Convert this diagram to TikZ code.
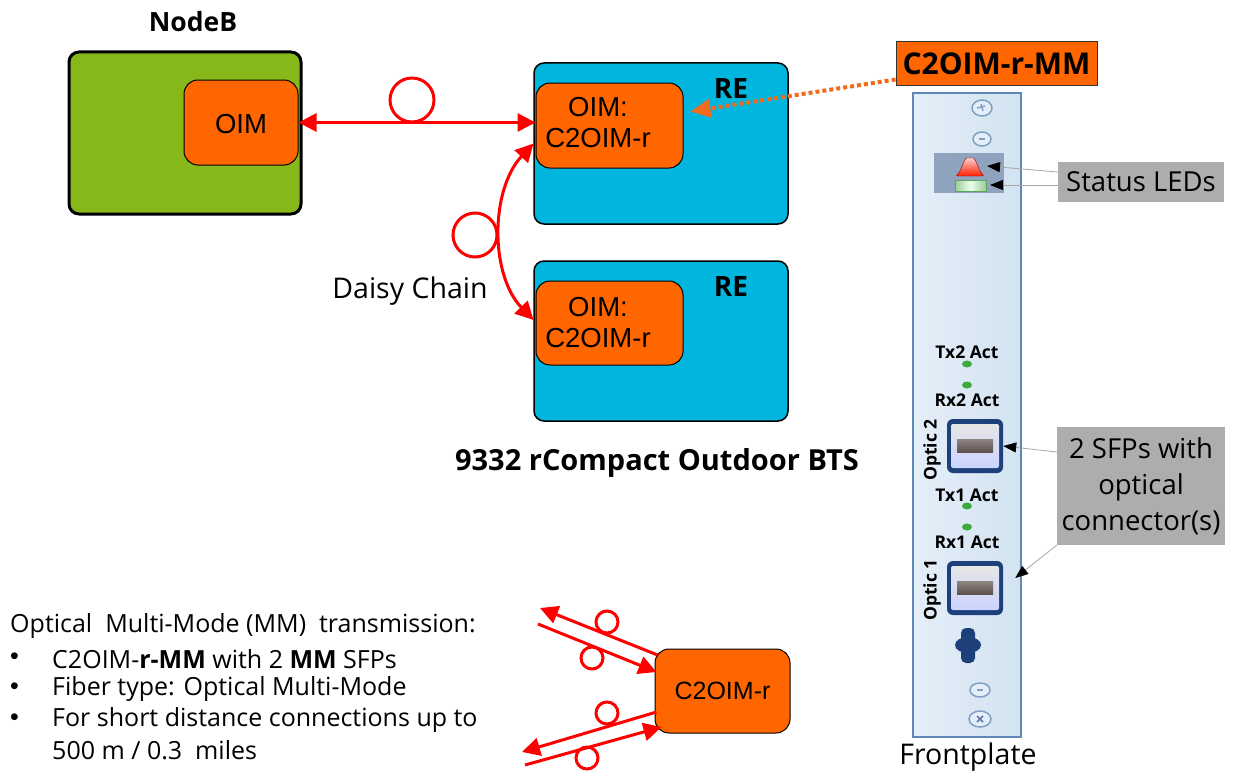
\documentclass[tikz,border=0pt]{standalone}
\usepackage{fontspec}
\setmainfont{Liberation Sans}
\newfontfamily\hum{Open Sans}
\usetikzlibrary{arrows.meta,calc}
\definecolor{nbgreen}{HTML}{86B81A}
\definecolor{oimorange}{HTML}{FF6600}
\definecolor{recyan}{HTML}{00B6DE}
\definecolor{fibred}{HTML}{FF0000}
\definecolor{dotorange}{HTML}{F26B1D}
\definecolor{calloutgray}{HTML}{ADADAD}
\definecolor{plate}{HTML}{D3E3F1}
\definecolor{platelight}{HTML}{E4EEF8}
\definecolor{plateedge}{HTML}{5F88B8}
\definecolor{ledpanel}{HTML}{8FA3BF}
\definecolor{navy}{HTML}{1D3F7A}
\definecolor{screwedge}{HTML}{7FA0C4}
\definecolor{actgreen}{HTML}{3DAA3D}
\definecolor{slot}{HTML}{5E514E}
\begin{document}
\begin{tikzpicture}[x=1pt,y=-1pt,
  outerbox/.style={draw=black,line width=1.5,rounded corners=10,inner sep=0},
  oimbox/.style={draw=black,line width=1,fill=oimorange,rounded corners=14,inner sep=0},
  boxtext/.style={font=\fontsize{27.5}{31}\selectfont,align=center,inner sep=0},
  title/.style={font=\hum\bfseries\fontsize{26.5}{30}\selectfont,inner sep=0},
  plain/.style={font=\hum\fontsize{28.5}{32}\selectfont,inner sep=0},
  body/.style={font=\hum\fontsize{25}{29}\selectfont,inner sep=0,anchor=west},
  bullet/.style={font=\fontsize{25}{29}\selectfont,inner sep=0,anchor=west},
  small/.style={font=\hum\bfseries\fontsize{17.5}{20}\selectfont,inner sep=0},
  fiber/.style={draw=fibred,line width=3},
  ftip/.style={-{Triangle[length=18pt,width=18pt]}},
  fiberbi/.style={{Triangle[length=18pt,width=18pt]}-{Triangle[length=18pt,width=18pt]}},
  callout/.style={draw=gray!70,line width=0.8,-{Triangle[color=black,length=13pt,width=10pt]}},
  graylabel/.style={fill=calloutgray,inner sep=0,align=center,font=\hum\fontsize{27.5}{36}\selectfont},
  screw/.style={draw=screwedge,line width=1.5,fill=platelight},
  sfp/.style={fill=navy,rounded corners=6,inner sep=0,minimum width=56,minimum height=54}
]
\useasboundingbox (0,0) rectangle (1239,776);

% ---------- NodeB ----------
\node[title] (nodebt) at (193,22) {NodeB};
\node[outerbox,line width=3,fill=nbgreen,minimum width=232,minimum height=162] (nodeb) at (185,133) {};
\node[oimbox,minimum width=114,minimum height=85] (oim) at (241,122.5) {};
\node[boxtext] (oimt) at (241,124) {OIM};

% ---------- Radio equipment ----------
\node[outerbox,fill=recyan,minimum width=254,minimum height=161] (rea) at (661,143.5) {};
\node[oimbox,minimum width=147,minimum height=85] (c2a) at (609.5,125.5) {};
\node[boxtext,align=center] (c2at) at (598,123) {OIM:\\C2OIM-r};
\node[title,font=\hum\bfseries\fontsize{28}{32}\selectfont] (rea-t) at (731,89) {RE};

\node[outerbox,fill=recyan,minimum width=254,minimum height=160] (reb) at (661,341) {};
\node[oimbox,minimum width=147,minimum height=84] (c2b) at (609.5,323) {};
\node[boxtext,align=center] (c2bt) at (598,323) {OIM:\\C2OIM-r};
\node[title,font=\hum\bfseries\fontsize{28}{32}\selectfont] (reb-t) at (731,287) {RE};

\node[title,font=\hum\bfseries\fontsize{29}{33}\selectfont] (bts) at (657,463) {9332 rCompact Outdoor BTS};

% ---------- fibre links ----------
\draw[fiber,fiberbi] (oim.east) -- (oim.east -| c2a.west);
\draw[fiber] (412,100) circle[radius=22];

\draw[fiber,fiberbi] ([shift={(-2,18)}]c2a.west) .. controls (490,190) and (490,275) .. ([shift={(-2,-3)}]c2b.west);
\draw[fiber] (475,235) circle[radius=22];
\node[plain] (daisy) at (410,291) {Daisy Chain};

% ---------- module label ----------
\node[draw=black!80,line width=1,fill=oimorange,minimum width=201,minimum height=43,inner sep=0,
      font=\hum\bfseries\fontsize{30}{34}\selectfont] (mm) at (996.5,63.5) {C2OIM-r-MM};
\draw[dotorange,line width=4,dash pattern=on 4pt off 3pt,-{Triangle[length=20pt,width=18pt,color=dotorange]}]
  ([shift={(0,-6)}]mm.south west) -- ([shift={(7,-14)}]c2a.east);

% ---------- frontplate ----------
\node[draw=plateedge,line width=2,left color=platelight,right color=plate,minimum width=108,minimum height=644,inner sep=0] (fp) at (967,415) {};
\draw[screw] (982,108) ellipse[x radius=10,y radius=8];
\draw[screwedge,line width=1.5] (977,108) -- (985,106) (981,104) -- (983,111);
\draw[screw] (982,139) ellipse[x radius=9,y radius=7];
\draw[screwedge,line width=2] (979,139) -- (985,139);

\node[fill=ledpanel,minimum width=70,minimum height=40,inner sep=0] (leds) at (969,173) {};
\shade[top color=red!20!white,bottom color=red!75!orange,draw=red!60!black,line width=0.4,rounded corners=3]
  (955,176) .. controls (961,172) and (964,158) .. (970,158) .. controls (976,158) and (979,172) .. (985,176) -- cycle;
\coordinate (redtip) at (987,166);
\shade[left color=green!30!gray!60,right color=green!30!gray!60,middle color=green!8!white,draw=green!30!gray]
  (955,180) rectangle (986,191);
\coordinate (greentip) at (990,185);

\node[graylabel,minimum width=166,minimum height=40] (ledl) at (1141,182) {Status LEDs};
\draw[callout] ([shift={(0,-10)}]ledl.west) -- (redtip);
\draw[callout] ([shift={(0,3)}]ledl.west) -- (greentip);

% optic 2
\node[small] (tx2) at (967,352) {Tx2 Act};
\fill[actgreen] (967,364) ellipse[x radius=5,y radius=3.5];
\fill[actgreen] (967,385) ellipse[x radius=5,y radius=3.5];
\node[small] (rx2) at (967,400) {Rx2 Act};
\node[sfp] (sfp2) at (975,446) {};
\shade[top color=gray!20,bottom color=cyan!15!blue!20!white,rounded corners=2] (951,424) rectangle (999,468);
\shade[top color=slot!70,bottom color=slot,middle color=slot!85] (957,439) rectangle (993,452);
\node[small,rotate=90] (op2) at (932,450) {Optic 2};

% optic 1
\node[small] (tx1) at (967,495) {Tx1 Act};
\fill[actgreen] (967,506) ellipse[x radius=5,y radius=3.5];
\fill[actgreen] (967,527) ellipse[x radius=5,y radius=3.5];
\node[small] (rx1) at (967,542) {Rx1 Act};
\node[sfp] (sfp1) at (975,588) {};
\shade[top color=gray!20,bottom color=cyan!15!blue!20!white,rounded corners=2] (951,566) rectangle (999,610);
\shade[top color=slot!70,bottom color=slot,middle color=slot!85] (957,581) rectangle (993,594);
\node[small,rotate=90] (op1) at (932,590) {Optic 1};

\node[graylabel,minimum width=168,minimum height=118] (sfpl) at (1141,486) {2 SFPs with\\optical\\connector(s)};
\draw[callout] ([shift={(0,-34)}]sfpl.west) -- (sfp2.east);
\draw[callout] (sfpl.south west) -- ([shift={(12,-10)}]sfp1.east);

% handle and screws
\fill[navy] (968,645) ellipse[x radius=13,y radius=8];
\fill[navy,rounded corners=5] (961,628) rectangle (975,663);
\draw[screw] (980,690) ellipse[x radius=10,y radius=7];
\draw[screwedge,line width=2] (977,690) -- (983,690);
\draw[screw] (980,719) ellipse[x radius=11,y radius=8];
\draw[navy!70,line width=1.5] (977,716) -- (983,722) (977,722) -- (983,716);

\node[plain] (fpt) at (968,757) {Frontplate};

% ---------- multi-mode summary ----------
\node[body] (mmh) at (10,626) {Optical\ \ Multi-Mode (MM)\ \ transmission:};
\node[bullet] (b1d) at (10,659) {\textbullet};
\node[body] (b1) at (52,659) {C2OIM-\textbf{r-MM} with 2 \textbf{MM} SFPs};
\node[bullet] (b2d) at (10,689) {\textbullet};
\node[body] (b2) at (52,689) {Fiber type: Optical Multi-Mode};
\node[bullet] (b3d) at (10,720) {\textbullet};
\node[body] (b3) at (52,720) {For short distance connections up to};
\node[body] (b3b) at (52,750) {500 m / 0.3\ \ miles};

% ---------- duplex fibre pair ----------
\node[oimbox,minimum width=135,minimum height=84] (c2c) at (722.5,691) {};
\node[boxtext,font=\fontsize{25}{29}\selectfont] (c2ct) at (722.5,691) {C2OIM-r};
\coordinate (o1) at (540,608);
\coordinate (i1) at (538,624);
\coordinate (o2) at (522,752);
\coordinate (i2) at (525,765);
\draw[fiber,ftip] ([shift={(3,-36)}]c2c.west) -- (o1);
\draw[fiber,ftip] (i1) -- ([shift={(2,-19)}]c2c.west);
\draw[fiber,ftip] ([shift={(2,21)}]c2c.west) -- (o2);
\draw[fiber,ftip] (i2) -- ([shift={(7,36)}]c2c.west);
\draw[fiber] (607,622) circle[radius=11];
\draw[fiber] (592,658) circle[radius=11];
\draw[fiber] (607,713) circle[radius=11];
\draw[fiber] (587,758) circle[radius=11];
\end{tikzpicture}
\end{document}
